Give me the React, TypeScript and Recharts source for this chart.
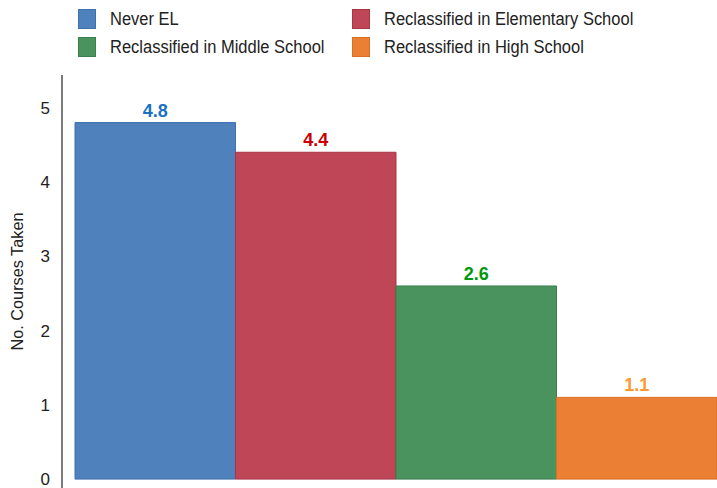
import React from 'react';
import { BarChart, Bar, XAxis, YAxis, Legend, LabelList } from 'recharts';

const seriesNames = [
  'Never EL',
  'Reclassified in Elementary School',
  'Reclassified in Middle School',
  'Reclassified in High School',
];
const seriesKeys = ['never', 'elementary', 'middle', 'high'];
const seriesValues = [4.8, 4.4, 2.6, 1.1];
const barColors = ['#4f81bd', '#be4656', '#4a935f', '#eb8035'];
const barStrokes = ['#3f71ad', '#a83545', '#3a7f4f', '#d96f25'];
const labelColors = ['#1a72c2', '#cc0000', '#00990a', '#ff9a33'];
const yTicks = [0, 1, 2, 3, 4, 5];

const row: Record<string, number | string> = { group: 'All' };
seriesKeys.forEach((k, i) => (row[k] = seriesValues[i]));
const data = [row];

const font = '"Liberation Sans", Arial, sans-serif';

function LegendBox() {
  return (
    <div style={{ position: 'relative', height: 66, fontFamily: font, fontSize: 17, color: '#222' }}>
      {seriesNames.map((name, i) => {
        const col = i % 2;
        const r = Math.floor(i / 2);
        return (
          <div
            key={i}
            style={{ position: 'absolute', left: col === 0 ? 78 : 352, top: r * 28, height: 20, display: 'flex', alignItems: 'center' }}
          >
            <span style={{ display: 'inline-block', width: 18, height: 20, background: barColors[i], border: `1px solid ${barStrokes[i]}`, boxSizing: 'border-box', marginRight: 14 }} />
            <span style={{ whiteSpace: 'nowrap', display: 'inline-block', transform: 'scale(0.97, 1.1)', transformOrigin: 'left center' }}>{name}</span>
          </div>
        );
      })}
    </div>
  );
}

function YLabel(props: any) {
  const vb = props.viewBox || { x: 0, y: 0, height: 0 };
  const cx = 17;
  const cy = vb.y + vb.height / 2;
  return (
    <text x={cx} y={cy} transform={`rotate(-90 ${cx} ${cy})`} textAnchor="middle" dominantBaseline="central" fontFamily={font} fontSize={17} fill="#222" textLength={138} lengthAdjust="spacingAndGlyphs">
      No. Courses Taken
    </text>
  );
}

export default function App() {
  return (
    <div style={{ position: 'fixed', left: 0, top: 0, width: 717, height: 488, background: '#fff', overflow: 'hidden' }}>
      <BarChart
        width={717}
        height={488}
        data={data}
        margin={{ top: 9, right: 0, bottom: 0, left: 0 }}
        barGap={0}
        barCategoryGap={0}
      >
        <Legend verticalAlign="top" align="left" content={() => <LegendBox />} wrapperStyle={{ height: 66, width: 717, left: 0, top: 9 }} />
        <XAxis dataKey="group" hide padding={{ left: 12, right: 0 }} />
        <YAxis
          width={62}
          domain={[-0.12, 5.44]}
          ticks={yTicks}
          interval={0}
          tickLine={false}
          axisLine={{ stroke: '#222', strokeWidth: 1.2 }}
          tickMargin={6}
          allowDataOverflow
          tick={{ fontFamily: font, fontSize: 17, fill: '#222' }}
          label={<YLabel />}
        />
        {seriesKeys.map((k, i) => (
          <Bar key={k} dataKey={k} name={seriesNames[i]} fill={barColors[i]} stroke={barStrokes[i]} strokeWidth={1} barSize={160.5} isAnimationActive={false}>
            <LabelList dataKey={k} position="top" offset={6} fill={labelColors[i]} fontFamily={font} fontSize={18} fontWeight="bold" formatter={(v: any) => Number(v).toFixed(1)} />
          </Bar>
        ))}
      </BarChart>
    </div>
  );
}
